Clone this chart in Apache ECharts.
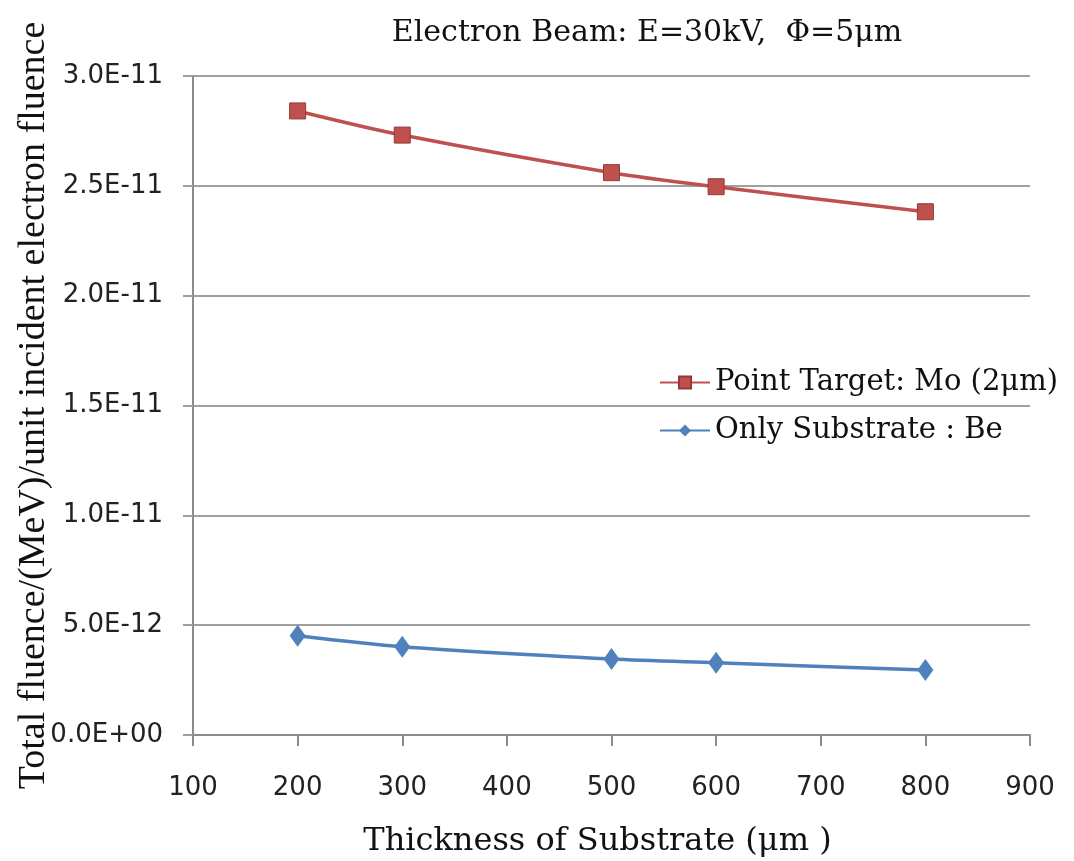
<!DOCTYPE html>
<html>
<head>
<meta charset="utf-8">
<script src="https://cdn.jsdelivr.net/npm/echarts@6/dist/echarts.min.js"></script>
<style>
  html, body { margin: 0; padding: 0; background: #fff; }
  #main { width: 1074px; height: 861px; }
</style>
</head>
<body>
<div id="main"></div>
<script>
// thickness of substrate (µm)
var thickness = [200, 300, 500, 600, 800];
// total fluence per unit incident electron fluence
var moTarget = [2.841e-11, 2.731e-11, 2.56e-11, 2.496e-11, 2.382e-11];
var beOnly = [4.52e-12, 4.02e-12, 3.46e-12, 3.29e-12, 2.96e-12];

function pairs(xs, ys) {
  return xs.map(function (x, i) { return [x, ys[i]]; });
}

function sciLabel(v) {
  var s = v.toExponential(1).toUpperCase();
  return s.replace(/E([+-])(\d)$/, 'E$10$2');
}

var myChart = echarts.init(document.getElementById('main'));

var serif = '"DejaVu Serif", serif';
var narrowSerif = '"Liberation Serif", serif';
var sans = '"DejaVu Sans", sans-serif';

var option = {
  backgroundColor: '#fff',
  title: {
    text: 'Electron Beam: E=30kV,  Φ=5μm',
    left: 642,
    textAlign: 'center',
    top: 13,
    textStyle: { fontFamily: serif, fontWeight: 'normal', fontSize: 30, color: '#111' }
  },
  legend: {
    orient: 'vertical',
    left: 654,
    top: 363,
    itemGap: 19,
    itemWidth: 50,
    itemHeight: 15,
    textStyle: { fontFamily: serif, fontSize: 29, color: '#111' },
    data: ['Point Target: Mo (2μm)', 'Only Substrate : Be']
  },
  grid: { left: 193, right: 44, top: 76, bottom: 126, containLabel: false, outerBoundsMode: 'none' },
  xAxis: {
    type: 'value',
    min: 100,
    max: 900,
    interval: 100,
    name: 'Thickness of Substrate (μm )',
    nameLocation: 'middle',
    nameGap: 91,
    nameTextStyle: { fontFamily: serif, fontSize: 32, color: '#111', padding: [0, 28, 0, 0] },
    axisLine: { lineStyle: { color: '#8c8c8c', width: 2 } },
    axisTick: { show: true, length: 11, lineStyle: { color: '#8c8c8c', width: 2 } },
    axisLabel: { fontFamily: sans, fontSize: 26, color: '#222', margin: 40 },
    splitLine: { show: false }
  },
  yAxis: {
    type: 'value',
    min: 0,
    max: 3e-11,
    interval: 5e-12,
    name: 'Total fluence/(MeV)/unit incident electron fluence',
    nameLocation: 'middle',
    nameGap: 140,
    nameMoveOverlap: false,
    nameTextStyle: { fontFamily: narrowSerif, fontSize: 38, color: '#111' },
    axisLine: { show: true, lineStyle: { color: '#8c8c8c', width: 2 } },
    axisTick: { show: true, length: 10, lineStyle: { color: '#a0a0a0', width: 2 } },
    axisLabel: { fontFamily: sans, fontSize: 26, color: '#222', margin: 30, formatter: sciLabel },
    splitLine: { show: true, lineStyle: { color: '#a0a0a0', width: 2 } }
  },
  series: [
    {
      name: 'Point Target: Mo (2μm)',
      type: 'line',
      smooth: 0.3,
      symbol: 'rect',
      symbolSize: 16,
      data: pairs(thickness, moTarget),
      lineStyle: { color: '#C0504D', width: 3.5 },
      itemStyle: { color: '#C0504D', borderColor: '#8f3b39', borderWidth: 1 }
    },
    {
      name: 'Only Substrate : Be',
      type: 'line',
      smooth: 0.3,
      symbol: 'diamond',
      symbolSize: [16, 22],
      data: pairs(thickness, beOnly),
      lineStyle: { color: '#4F81BD', width: 3.5 },
      itemStyle: { color: '#4F81BD' }
    }
  ]
};

myChart.setOption(option);
</script>
</body>
</html>
